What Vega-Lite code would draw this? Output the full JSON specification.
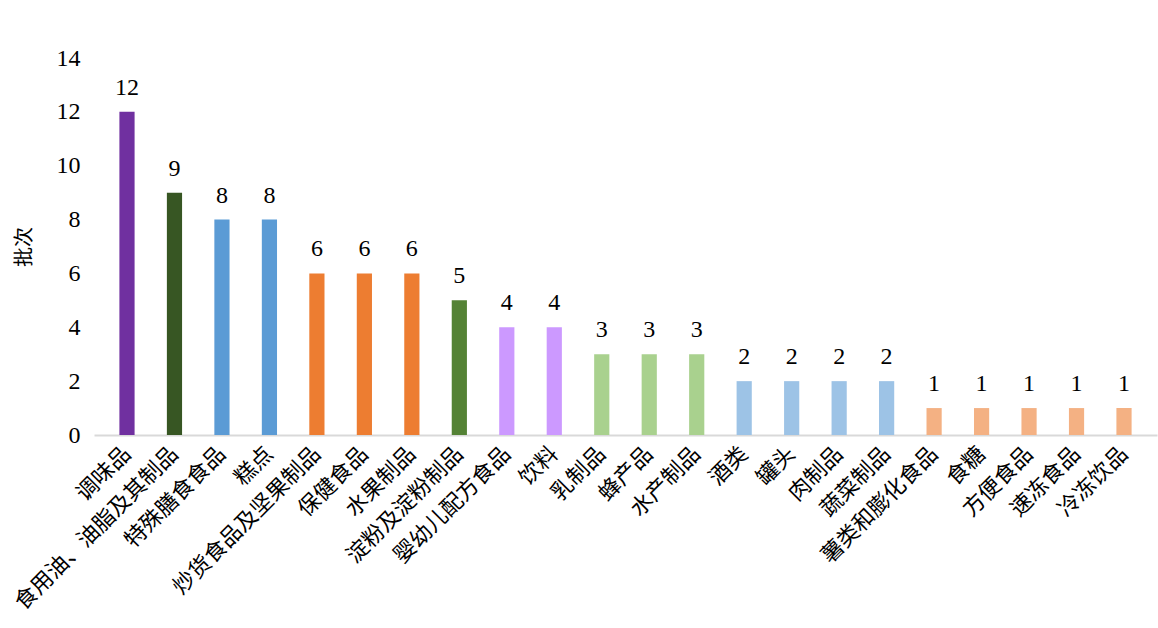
{
  "$schema": "https://vega.github.io/schema/vega-lite/v6.json",
  "width": 1063,
  "height": 377,
  "autosize": {"type": "none"},
  "padding": {"left": 94, "top": 58, "right": 1, "bottom": 193},
  "background": "white",
  "config": {"view": {"stroke": null}},
  "data": {
    "values": [
      {"category": "调味品", "count": 12},
      {"category": "食用油、油脂及其制品", "count": 9},
      {"category": "特殊膳食食品", "count": 8},
      {"category": "糕点", "count": 8},
      {"category": "炒货食品及坚果制品", "count": 6},
      {"category": "保健食品", "count": 6},
      {"category": "水果制品", "count": 6},
      {"category": "淀粉及淀粉制品", "count": 5},
      {"category": "婴幼儿配方食品", "count": 4},
      {"category": "饮料", "count": 4},
      {"category": "乳制品", "count": 3},
      {"category": "蜂产品", "count": 3},
      {"category": "水产制品", "count": 3},
      {"category": "酒类", "count": 2},
      {"category": "罐头", "count": 2},
      {"category": "肉制品", "count": 2},
      {"category": "蔬菜制品", "count": 2},
      {"category": "薯类和膨化食品", "count": 1},
      {"category": "食糖", "count": 1},
      {"category": "方便食品", "count": 1},
      {"category": "速冻食品", "count": 1},
      {"category": "冷冻饮品", "count": 1}
    ]
  },
  "encoding": {
    "x": {
      "field": "category",
      "type": "nominal",
      "sort": null,
      "scale": {"paddingInner": 0.68, "paddingOuter": 0.535},
      "axis": {
        "title": null,
        "labelAngle": -45,
        "labelAlign": "right",
        "labelBaseline": "middle",
        "labelFont": "Noto Sans CJK SC",
        "labelFontSize": 22,
        "labelColor": "#000000",
        "labelPadding": 15,
        "ticks": false,
        "domainColor": "#D9D9D9",
        "domainWidth": 2,
        "labelLimit": 400
      }
    },
    "y": {
      "field": "count",
      "type": "quantitative",
      "scale": {"domain": [0, 14]},
      "axis": {
        "title": "批次",
        "titleFont": "Noto Sans CJK SC",
        "titleFontSize": 20,
        "titleFontWeight": "normal",
        "titleColor": "#000000",
        "titlePadding": 22,
        "values": [0, 2, 4, 6, 8, 10, 12, 14],
        "labelFont": "Liberation Serif, Times New Roman, DejaVu Serif, serif",
        "labelFontSize": 24,
        "labelColor": "#000000",
        "labelPadding": 14,
        "ticks": false,
        "domain": false,
        "grid": false
      }
    }
  },
  "layer": [
    {
      "mark": {"type": "bar"},
      "encoding": {
        "color": {
          "field": "count",
          "type": "ordinal",
          "legend": null,
          "scale": {
            "domain": [12, 9, 8, 6, 5, 4, 3, 2, 1],
            "range": ["#7030A0", "#375623", "#5B9BD5", "#ED7D31", "#548235", "#CC99FF", "#A9D18E", "#9DC3E6", "#F4B183"]
          }
        }
      }
    },
    {
      "mark": {"type": "text", "baseline": "alphabetic", "dy": -17, "font": "Liberation Serif, Times New Roman, DejaVu Serif, serif", "fontSize": 24, "color": "#000000"},
      "encoding": {"text": {"field": "count", "type": "quantitative"}}
    }
  ]
}
